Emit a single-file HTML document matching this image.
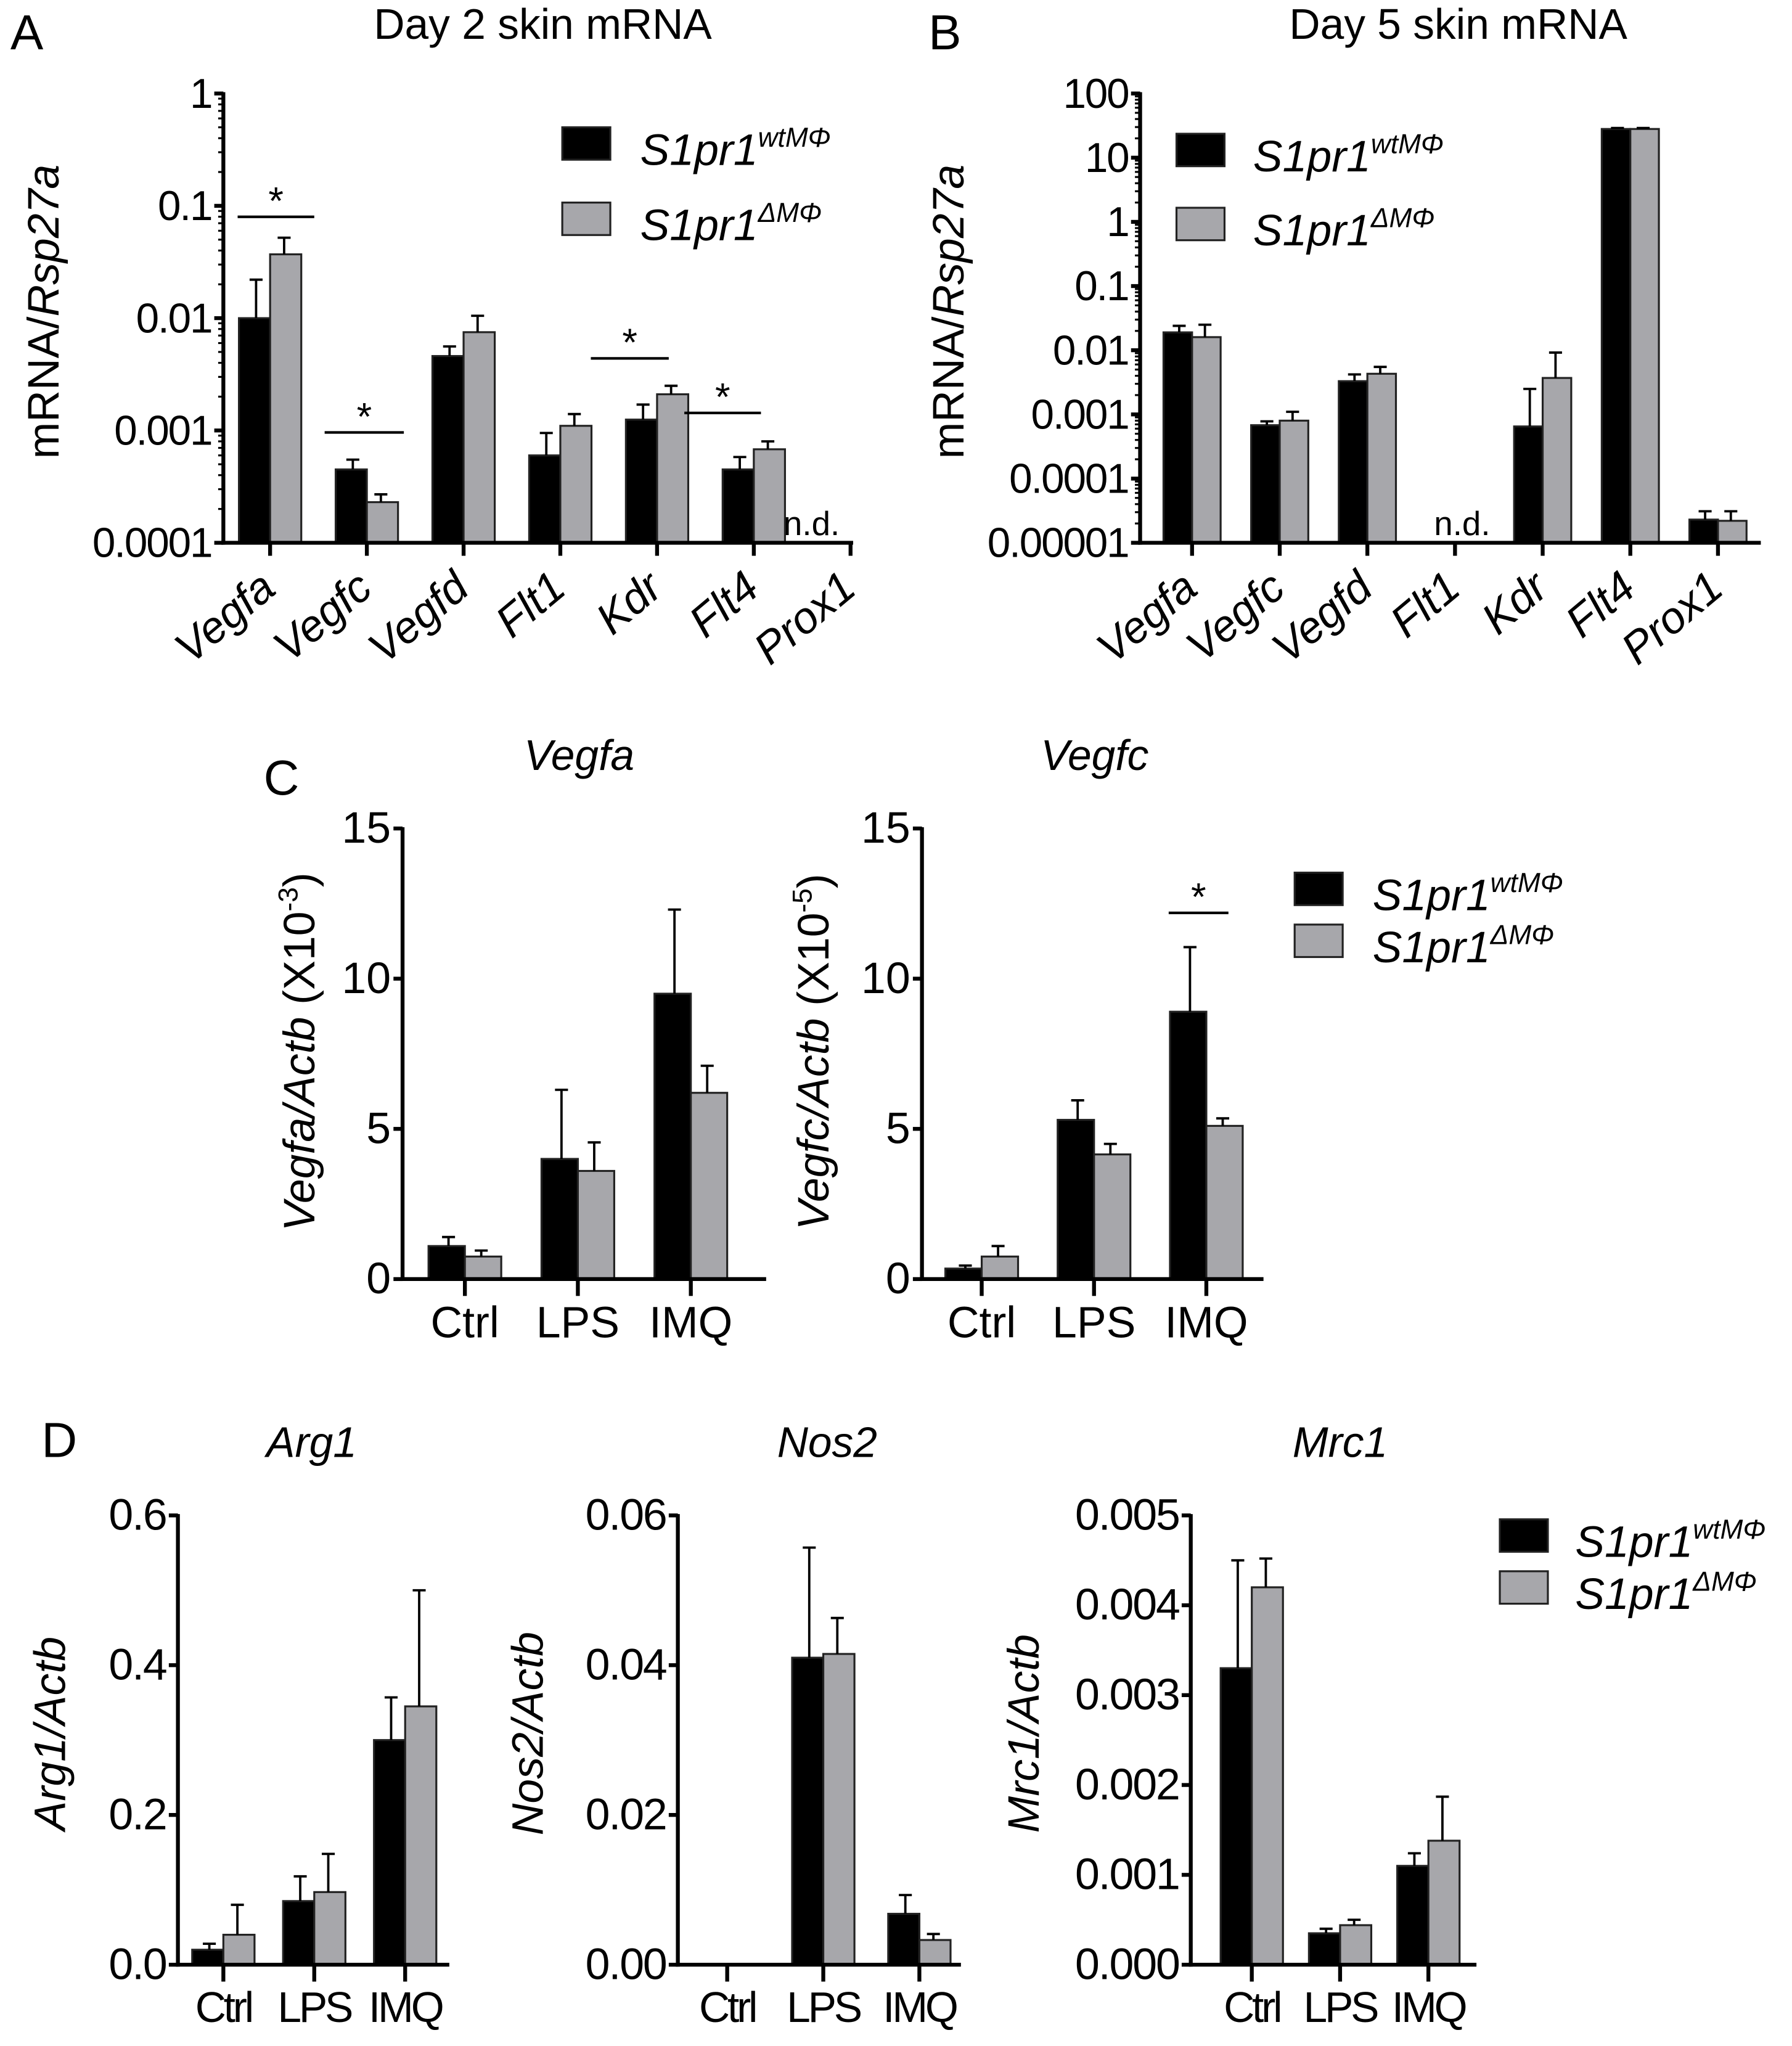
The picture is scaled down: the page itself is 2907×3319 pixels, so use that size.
<!DOCTYPE html>
<html><head><meta charset="utf-8">
<style>
html,body{margin:0;padding:0;background:#fff;}
svg{display:block;}
text{font-family:"Liberation Sans",sans-serif;fill:#000;}
</style></head>
<body>
<svg id="fig" width="2907" height="3319" viewBox="0 0 1380 1575.6" xmlns="http://www.w3.org/2000/svg"></svg>
<script>
// ---------- Data ----------
const genesA = ["Vegfa","Vegfc","Vegfd","Flt1","Kdr","Flt4","Prox1"];
const aWt    = [0.01, 0.00045, 0.0046, 0.0006, 0.00125, 0.00045, null];
const aKo    = [0.037, 0.00023, 0.0075, 0.0011, 0.0021, 0.00068, null];
const aWtErr = [0.022, 0.00055, 0.0056, 0.00095, 0.0017, 0.00058, null];
const aKoErr = [0.052, 0.00027, 0.0105, 0.0014, 0.0025, 0.0008, null];
const aTicks = [1, 0.1, 0.01, 0.001, 0.0001];
const aTickLabels = ["1","0.1","0.01","0.001","0.0001"];

const genesB = ["Vegfa","Vegfc","Vegfd","Flt1","Kdr","Flt4","Prox1"];
const bWt    = [0.019, 0.00068, 0.0033, null, 0.00065, 28, 0.000023];
const bKo    = [0.016, 0.0008, 0.0043, null, 0.0037, 28, 0.000022];
const bWtErr = [0.024, 0.00078, 0.0042, null, 0.0025, 29, 0.000031];
const bKoErr = [0.025, 0.0011, 0.0055, null, 0.0092, 29, 0.000031];
const bTicks = [100, 10, 1, 0.1, 0.01, 0.001, 0.0001, 0.00001];
const bTickLabels = ["100","10","1","0.1","0.01","0.001","0.0001","0.00001"];

const conds = ["Ctrl","LPS","IMQ"];
const cVegfaWt = [1.1, 4.0, 9.5], cVegfaKo = [0.75, 3.6, 6.2];
const cVegfaWtErr = [1.4, 6.3, 12.3], cVegfaKoErr = [0.95, 4.55, 7.1];
const cVegfcWt = [0.35, 5.3, 8.9], cVegfcKo = [0.75, 4.15, 5.1];
const cVegfcWtErr = [0.45, 5.95, 11.05], cVegfcKoErr = [1.1, 4.5, 5.35];
const cTicks = [0, 5, 10, 15];

const dArgWt = [0.02, 0.085, 0.30], dArgKo = [0.04, 0.097, 0.345];
const dArgWtErr = [0.028, 0.118, 0.357], dArgKoErr = [0.08, 0.148, 0.5];
const dNosWt = [0, 0.041, 0.0068], dNosKo = [0, 0.0415, 0.0033];
const dNosWtErr = [0, 0.0557, 0.0093], dNosKoErr = [0, 0.0463, 0.0041];
const dMrcWt = [0.0033, 0.00035, 0.0011], dMrcKo = [0.0042, 0.00044, 0.00138];
const dMrcWtErr = [0.0045, 0.0004, 0.00124], dMrcKoErr = [0.00452, 0.0005, 0.00187];
const dArgTicks = [0, 0.2, 0.4, 0.6], dArgLabels = ["0.0","0.2","0.4","0.6"];
const dNosTicks = [0, 0.02, 0.04, 0.06], dNosLabels = ["0.00","0.02","0.04","0.06"];
const dMrcTicks = [0, 0.001, 0.002, 0.003, 0.004, 0.005], dMrcLabels = ["0.000","0.001","0.002","0.003","0.004","0.005"];

// ---------- Helpers ----------
const NS = "http://www.w3.org/2000/svg";
const svg = document.getElementById("fig");
function el(tag, attrs, parent, txt){
  const e = document.createElementNS(NS, tag);
  for (const k in attrs) e.setAttribute(k, attrs[k]);
  if (txt !== undefined) e.textContent = txt;
  (parent || svg).appendChild(e);
  return e;
}
const BLACK = "#000", GRAY = "#a7a7ab";

function logScale(top, bottom, vmax, vmin){
  const lmax = Math.log10(vmax), lmin = Math.log10(vmin);
  return v => bottom - (Math.log10(v) - lmin) / (lmax - lmin) * (bottom - top);
}
function linScale(top, bottom, vmax){
  return v => bottom - v / vmax * (bottom - top);
}

function drawBar(g, x, w, y0, yv, fill, name){
  const r = el("rect", {x:x, y:Math.min(yv,y0), width:w, height:Math.abs(y0-yv), fill:fill, stroke:"#222", "stroke-width":1.5}, g);
  
  
}
function drawErr(g, cx, yv, ye, name){
  const p = el("path", {d:`M${cx},${yv} V${ye} M${cx-5},${ye} H${cx+5}`, stroke:"#000", "stroke-width":1.8, fill:"none"}, g);
  
  
}

function chart(opt){
  const g = el("g", {}, svg);
  
  
  const y = opt.scale;
  const y0 = opt.bottom;
  opt.cats.forEach((c, i) => {
    const cx = opt.x0 + opt.first + i * opt.step;
    const series = [[opt.wt, opt.wtErr, BLACK, "wt"], [opt.ko, opt.koErr, GRAY, "ko"]];
    series.forEach((s, j) => {
      const v = s[0][i];
      if (v === null || v === undefined || v <= 0) return;
      const bx = cx - opt.bw + j * opt.bw;
      drawBar(g, bx, opt.bw, y0, y(v), s[2], `bar-${c.toLowerCase()}-${s[3]}`);
      const e = s[1][i];
      if (e !== null && e !== undefined && e > v) drawErr(g, bx + (j === 0 ? opt.bw*0.55 : opt.bw*0.45), y(v), y(e), `error-bar-${c.toLowerCase()}-${s[3]}`);
    });
    const t = el("line", {x1:cx, y1:y0, x2:cx, y2:y0+opt.tickLen, stroke:"#000", "stroke-width":3}, g);
    
    
    if (opt.rotated){
      const lx = cx + 6, ly = y0 + 38;
      const tx = el("text", {x:lx, y:ly, "font-size":34, "font-style":"italic", "text-anchor":"end", transform:`rotate(-40 ${lx} ${ly})`}, g, c);
      
      
    } else {
      const tx = el("text", {x:cx, y:y0 + opt.labelDy, "font-size":opt.labelSize, "text-anchor":"middle", "letter-spacing":opt.labelSpacing||0}, g, c);
      
      
    }
  });
  const ya = el("line", {x1:opt.x0, y1:opt.top-1, x2:opt.x0, y2:y0+1.5, stroke:"#000", "stroke-width":3}, g);
  
  
  const xa = el("line", {x1:opt.x0-1.5, y1:y0, x2:opt.xEnd, y2:y0, stroke:"#000", "stroke-width":3}, g);
  
  
  opt.ticks.forEach((t, i) => {
    const ty = y(t);
    const tl = el("line", {x1:opt.x0-7, y1:ty, x2:opt.x0, y2:ty, stroke:"#000", "stroke-width":3}, g);
    
    
    const tt = el("text", {x:opt.x0-9, y:ty+11, "font-size":opt.tickSize||32, "text-anchor":"end", "letter-spacing":opt.tickSpacing||0}, g, opt.tickLabels[i]);
    
    
    if (opt.log && i < opt.ticks.length - 1){
      for (let m = 2; m <= 9; m++){
        const my = y(opt.ticks[i+1] * m);
        const ml = el("line", {x1:opt.x0-4, y1:my, x2:opt.x0, y2:my, stroke:"#000", "stroke-width":1.5}, g);
        
        
      }
    }
  });
  return g;
}

function legend(x, y1, y2, tx){
  const g = el("g", {}, svg);
  
  
  const r1 = el("rect", {x:x, y:y1, width:37, height:25, fill:BLACK, stroke:"#222", "stroke-width":1.5}, g);
  
  
  const r2 = el("rect", {x:x, y:y2, width:37, height:25, fill:GRAY, stroke:"#222", "stroke-width":1.5}, g);
  
  
  const t1 = el("text", {x:tx, y:y1+29, "font-size":34, "font-style":"italic"}, g);
  
  
  el("tspan", {}, t1, "S1pr1");
  el("tspan", {"font-size":21, dy:-14}, t1, "wtMΦ");
  const t2 = el("text", {x:tx, y:y2+29, "font-size":34, "font-style":"italic"}, g);
  
  
  el("tspan", {}, t2, "S1pr1");
  el("tspan", {"font-size":21, dy:-14}, t2, "ΔMΦ");
}

function label(x, y, txt, size, name, extra){
  const t = el("text", Object.assign({x:x, y:y, "font-size":size}, extra||{}), svg, txt);
  
  
  return t;
}
function ylabel(x, cy, parts, name){
  const t = el("text", {x:0, y:0, "font-size":34, "text-anchor":"middle", transform:`translate(${x},${cy}) rotate(-90)`}, svg);
  
  
  parts.forEach(p => el("tspan", p[1] || {}, t, p[0]));
}
function sig(x1, x2, y, name){
  const l = el("line", {x1:x1, y1:y, x2:x2, y2:y, stroke:"#000", "stroke-width":2}, svg);
  
  
  label((x1+x2)/2, y-2, "*", 30, name + '-star', {"text-anchor":"middle"});
}

// ---------- Panel A ----------
label(8, 38, "A", 38, "panel-label-a");
label(418, 30, "Day 2 skin mRNA", 33, "title-a", {"text-anchor":"middle"});
const yA = logScale(72, 418, 1, 0.0001);
chart({name:"chart-a", cats:genesA, wt:aWt, ko:aKo, wtErr:aWtErr, koErr:aKoErr, scale:yA, top:72, bottom:418,
  x0:172, xEnd:657, first:36, step:74.5, bw:24, tickLen:10, rotated:true, ticks:aTicks, tickLabels:aTickLabels, log:true, tickSpacing:-1});
ylabel(45, 240, [["mRNA/"],["Rsp27a",{"font-style":"italic"}]], "y-axis-title-a");
label(625, 412, "n.d.", 26, "nd-label-a", {"text-anchor":"middle"});
sig(183, 242, 167, "sig-vegfa-a");
sig(250, 311, 333, "sig-vegfc-a");
sig(455, 515, 276, "sig-kdr-a");
sig(527, 586, 318, "sig-flt4-a");
legend(433, 98, 156, 493);

// ---------- Panel B ----------
label(715, 38, "B", 38, "panel-label-b");
label(1123, 30, "Day 5 skin mRNA", 33, "title-b", {"text-anchor":"middle"});
const yB = logScale(72, 418, 100, 0.00001);
chart({name:"chart-b", cats:genesB, wt:bWt, ko:bKo, wtErr:bWtErr, koErr:bKoErr, scale:yB, top:72, bottom:418,
  x0:878, xEnd:1356, first:40, step:67.5, bw:22, tickLen:10, rotated:true, ticks:bTicks, tickLabels:bTickLabels, log:true, tickSpacing:-1});
ylabel(742, 240, [["mRNA/"],["Rsp27a",{"font-style":"italic"}]], "y-axis-title-b");
label(1126, 412, "n.d.", 26, "nd-label-b", {"text-anchor":"middle"});
legend(906, 103, 160, 965);

// ---------- Panel C ----------
label(203, 612, "C", 38, "panel-label-c");
label(446, 593, "Vegfa", 33, "title-c-vegfa", {"text-anchor":"middle", "font-style":"italic"});
label(843, 593, "Vegfc", 33, "title-c-vegfc", {"text-anchor":"middle", "font-style":"italic"});
const yC = linScale(638, 985, 15);
chart({name:"chart-c-vegfa", cats:conds, wt:cVegfaWt, ko:cVegfaKo, wtErr:cVegfaWtErr, koErr:cVegfaKoErr, scale:yC, top:638, bottom:985,
  x0:310, xEnd:590, first:48, step:87, bw:28, tickLen:13, labelDy:45, labelSize:34, ticks:cTicks, tickLabels:cTicks.map(String), tickSize:34});
chart({name:"chart-c-vegfc", cats:conds, wt:cVegfcWt, ko:cVegfcKo, wtErr:cVegfcWtErr, koErr:cVegfcKoErr, scale:yC, top:638, bottom:985,
  x0:710, xEnd:973, first:46, step:86.5, bw:28, tickLen:13, labelDy:45, labelSize:34, ticks:cTicks, tickLabels:cTicks.map(String), tickSize:34});
ylabel(242, 810, [["Vegfa/Actb",{"font-style":"italic"}],[" (X10"],["-3",{"font-size":21,dy:-13}],[")",{dy:13}]], "y-axis-title-c-vegfa");
ylabel(638, 810, [["Vegfc/Actb",{"font-style":"italic"}],[" (X10"],["-5",{"font-size":21,dy:-13}],[")",{dy:13}]], "y-axis-title-c-vegfc");
sig(900, 946, 703, "sig-imq-c");
legend(997, 672, 712, 1057);

// ---------- Panel D ----------
label(32, 1122, "D", 38, "panel-label-d");
label(240, 1122, "Arg1", 33, "title-d-arg1", {"text-anchor":"middle", "font-style":"italic"});
label(637, 1122, "Nos2", 33, "title-d-nos2", {"text-anchor":"middle", "font-style":"italic"});
label(1032, 1122, "Mrc1", 33, "title-d-mrc1", {"text-anchor":"middle", "font-style":"italic"});
const yD1 = linScale(1167, 1513, 0.6);
const yD2 = linScale(1167, 1513, 0.06);
const yD3 = linScale(1167, 1513, 0.005);
chart({name:"chart-d-arg1", cats:conds, wt:dArgWt, ko:dArgKo, wtErr:dArgWtErr, koErr:dArgKoErr, scale:yD1, top:1167, bottom:1513,
  x0:137, xEnd:346, first:35, step:70, bw:24, tickLen:13, labelDy:44, labelSize:33, labelSpacing:-2, ticks:dArgTicks, tickLabels:dArgLabels, tickSize:34, tickSpacing:-1});
chart({name:"chart-d-nos2", cats:conds, wt:dNosWt, ko:dNosKo, wtErr:dNosWtErr, koErr:dNosKoErr, scale:yD2, top:1167, bottom:1513,
  x0:522, xEnd:740, first:38, step:74, bw:24, tickLen:13, labelDy:44, labelSize:33, labelSpacing:-2, ticks:dNosTicks, tickLabels:dNosLabels, tickSize:34, tickSpacing:-1});
chart({name:"chart-d-mrc1", cats:conds, wt:dMrcWt, ko:dMrcKo, wtErr:dMrcWtErr, koErr:dMrcKoErr, scale:yD3, top:1167, bottom:1513,
  x0:917, xEnd:1137, first:47, step:68, bw:24, tickLen:13, labelDy:44, labelSize:33, labelSpacing:-2, ticks:dMrcTicks, tickLabels:dMrcLabels, tickSize:34, tickSpacing:-1});
ylabel(50, 1335, [["Arg1/Actb",{"font-style":"italic"}]], "y-axis-title-d-arg1");
ylabel(418, 1335, [["Nos2/Actb",{"font-style":"italic"}]], "y-axis-title-d-nos2");
ylabel(800, 1335, [["Mrc1/Actb",{"font-style":"italic"}]], "y-axis-title-d-mrc1");
legend(1155, 1170, 1210, 1213);
</script>
</body></html>
